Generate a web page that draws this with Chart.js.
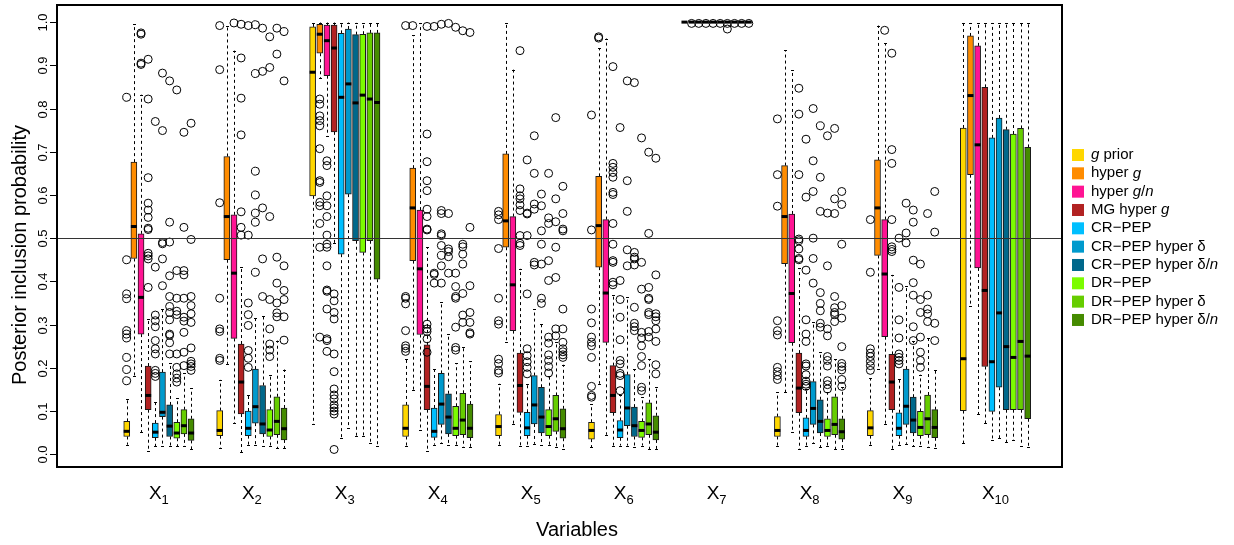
<!DOCTYPE html>
<html>
<head>
<meta charset="utf-8">
<script src="https://cdn.jsdelivr.net/npm/chart.js@4.4.0/dist/chart.umd.min.js"></script>
<style>
  body { margin: 0; background: #fff; }
</style>
</head>
<body>
<canvas id="boxChart" width="1234" height="545"></canvas>
<script>
// variables X1..X10 (subscript numbers)
var variables = ["1", "2", "3", "4", "5", "6", "7", "8", "9", "10"];

// priors, {..} marks italic parts
var priorLabels = ["{g} prior", "hyper {g}", "hyper {g}/{n}", "MG hyper {g}", "CR\u2212PEP",
  "CR\u2212PEP hyper \u03b4", "CR\u2212PEP hyper \u03b4/{n}", "DR\u2212PEP", "DR\u2212PEP hyper \u03b4", "DR\u2212PEP hyper \u03b4/{n}"];
var priorColors = ["#FFD700", "#FF8C00", "#FF1493", "#B22222", "#00BFFF",
  "#009ACD", "#00688B", "#7CFC00", "#66CD00", "#458B00"];

var yTicks = [0, 0.1, 0.2, 0.3, 0.4, 0.5, 0.6, 0.7, 0.8, 0.9, 1.0];

// one row per variable, one column per prior
var whiskerLow = [
  [0.022, 0.182, 0.051, 0.007, 0.019, 0.019, 0.019, 0.019, 0.019, 0.011],
  [0.014, 0.209, 0.072, 0.005, 0.022, 0.022, 0.020, 0.019, 0.014, 0.014],
  [0.070, 0.870, 0.737, 0.488, 0.037, 0.060, 0.043, 0.043, 0.026, 0.019],
  [0.018, 0.149, 0.057, 0.008, 0.022, 0.026, 0.022, 0.022, 0.016, 0.016],
  [0.022, 0.259, 0.069, 0.020, 0.020, 0.024, 0.022, 0.022, 0.016, 0.012],
  [0.016, 0.163, 0.045, 0.020, 0.020, 0.020, 0.016, 0.020, 0.012, 0.012],
  [1.0, 1.0, 1.0, 1.0, 1.0, 1.0, 1.0, 1.0, 1.0, 1.0],
  [0.019, 0.143, 0.051, 0.012, 0.020, 0.025, 0.016, 0.020, 0.011, 0.011],
  [0.022, 0.197, 0.069, 0.011, 0.022, 0.024, 0.019, 0.020, 0.016, 0.015],
  [0.025, 0.344, 0.093, 0.072, 0.033, 0.037, 0.028, 0.032, 0.020, 0.016]
];
var boxLow = [
  [0.041, 0.453, 0.278, 0.103, 0.038, 0.087, 0.041, 0.037, 0.047, 0.032],
  [0.043, 0.450, 0.268, 0.093, 0.043, 0.072, 0.047, 0.041, 0.045, 0.033],
  [0.598, 0.928, 0.876, 0.746, 0.463, 0.602, 0.494, 0.467, 0.494, 0.405],
  [0.041, 0.448, 0.277, 0.103, 0.039, 0.069, 0.047, 0.043, 0.045, 0.038],
  [0.043, 0.479, 0.286, 0.097, 0.043, 0.070, 0.049, 0.043, 0.053, 0.037],
  [0.035, 0.433, 0.259, 0.096, 0.038, 0.066, 0.041, 0.039, 0.045, 0.033],
  [1.0, 1.0, 1.0, 1.0, 1.0, 1.0, 1.0, 1.0, 1.0, 1.0],
  [0.041, 0.441, 0.258, 0.096, 0.041, 0.069, 0.049, 0.041, 0.045, 0.035],
  [0.043, 0.460, 0.272, 0.103, 0.043, 0.069, 0.049, 0.043, 0.045, 0.038],
  [0.101, 0.647, 0.431, 0.203, 0.099, 0.155, 0.103, 0.103, 0.103, 0.082]
];
var boxMid = [
  [0.053, 0.527, 0.363, 0.136, 0.051, 0.097, 0.065, 0.049, 0.066, 0.049],
  [0.055, 0.550, 0.419, 0.167, 0.060, 0.110, 0.070, 0.056, 0.076, 0.059],
  [0.884, 0.972, 0.957, 0.940, 0.826, 0.857, 0.813, 0.831, 0.822, 0.814],
  [0.060, 0.570, 0.429, 0.157, 0.053, 0.116, 0.086, 0.060, 0.079, 0.060],
  [0.064, 0.540, 0.392, 0.159, 0.061, 0.114, 0.086, 0.064, 0.082, 0.059],
  [0.055, 0.529, 0.373, 0.136, 0.056, 0.107, 0.066, 0.055, 0.070, 0.051],
  [1.0, 1.0, 1.0, 1.0, 1.0, 1.0, 1.0, 1.0, 1.0, 1.0],
  [0.055, 0.550, 0.372, 0.153, 0.055, 0.106, 0.076, 0.055, 0.069, 0.052],
  [0.061, 0.570, 0.417, 0.167, 0.060, 0.111, 0.079, 0.062, 0.082, 0.062],
  [0.221, 0.830, 0.716, 0.379, 0.214, 0.327, 0.249, 0.224, 0.261, 0.227]
];
var boxHigh = [
  [0.076, 0.676, 0.510, 0.204, 0.072, 0.190, 0.114, 0.074, 0.103, 0.082],
  [0.101, 0.689, 0.554, 0.255, 0.100, 0.197, 0.159, 0.103, 0.133, 0.107],
  [0.989, 0.995, 0.993, 0.993, 0.974, 0.984, 0.971, 0.972, 0.975, 0.975],
  [0.114, 0.662, 0.565, 0.253, 0.107, 0.187, 0.140, 0.111, 0.141, 0.116],
  [0.092, 0.695, 0.550, 0.234, 0.097, 0.182, 0.155, 0.103, 0.136, 0.105],
  [0.074, 0.643, 0.543, 0.205, 0.078, 0.184, 0.109, 0.076, 0.119, 0.089],
  [1.0, 1.0, 1.0, 1.0, 1.0, 1.0, 1.0, 1.0, 1.0, 1.0],
  [0.087, 0.668, 0.556, 0.234, 0.084, 0.168, 0.126, 0.082, 0.133, 0.082],
  [0.101, 0.681, 0.543, 0.231, 0.096, 0.197, 0.132, 0.099, 0.137, 0.103],
  [0.755, 0.968, 0.945, 0.849, 0.732, 0.778, 0.751, 0.741, 0.754, 0.710]
];
var whiskerHigh = [
  [0.128, 0.995, 0.832, 0.313, 0.120, 0.336, 0.210, 0.130, 0.188, 0.153],
  [0.172, 0.992, 0.934, 0.433, 0.137, 0.315, 0.321, 0.184, 0.263, 0.196],
  [0.999, 0.999, 0.999, 0.999, 0.999, 0.999, 0.999, 0.999, 0.999, 0.999],
  [0.220, 0.970, 0.998, 0.479, 0.197, 0.352, 0.278, 0.210, 0.247, 0.215],
  [0.163, 0.998, 0.890, 0.429, 0.163, 0.336, 0.301, 0.180, 0.259, 0.207],
  [0.116, 0.940, 0.962, 0.369, 0.136, 0.363, 0.197, 0.132, 0.220, 0.155],
  [1.0, 1.0, 1.0, 1.0, 1.0, 1.0, 1.0, 1.0, 1.0, 1.0],
  [0.143, 0.935, 0.889, 0.430, 0.151, 0.305, 0.237, 0.143, 0.220, 0.155],
  [0.176, 0.992, 0.951, 0.415, 0.173, 0.389, 0.261, 0.184, 0.268, 0.194],
  [0.998, 0.998, 0.998, 0.998, 0.998, 0.998, 0.998, 0.998, 0.998, 0.998]
];
var outliers = [
  [[0.826, 0.45, 0.371, 0.36, 0.286, 0.278, 0.269, 0.224, 0.196, 0.17],
   [],
   [0.975, 0.972, 0.905, 0.902],
   [0.914, 0.822, 0.64, 0.581, 0.565, 0.548, 0.523, 0.52, 0.465, 0.459, 0.452, 0.386],
   [0.77, 0.433, 0.322, 0.309, 0.295, 0.263, 0.244, 0.232, 0.194, 0.187, 0.18],
   [0.882, 0.749, 0.49, 0.487, 0.452, 0.39],
   [0.864, 0.537, 0.491, 0.413, 0.365, 0.342, 0.328, 0.311, 0.278, 0.275, 0.258, 0.232],
   [0.843, 0.425, 0.361, 0.331, 0.323, 0.232, 0.201, 0.186, 0.176, 0.167],
   [0.745, 0.525, 0.425, 0.415, 0.361, 0.317, 0.308, 0.282, 0.236, 0.205],
   [0.766, 0.497, 0.365, 0.344, 0.325, 0.305, 0.246, 0.215, 0.209, 0.203, 0.194]],
  [[0.992, 0.89, 0.582, 0.361, 0.29, 0.284, 0.222, 0.217],
   [],
   [0.998],
   [0.995, 0.917, 0.824, 0.739, 0.561, 0.525, 0.507],
   [0.992, 0.507, 0.35, 0.323, 0.298, 0.24, 0.222, 0.201],
   [0.994, 0.881, 0.655, 0.6, 0.558, 0.537, 0.421],
   [0.986, 0.886, 0.57, 0.452, 0.365],
   [0.966, 0.895, 0.55, 0.358, 0.29, 0.255, 0.241, 0.226],
   [0.986, 0.926, 0.456, 0.396, 0.35, 0.327, 0.318],
   [0.978, 0.864, 0.436, 0.379, 0.358, 0.318, 0.264]],
  [[],
   [0.822, 0.81, 0.783, 0.772, 0.76, 0.707, 0.633, 0.629, 0.583, 0.575, 0.534, 0.479, 0.271],
   [0.679, 0.668, 0.598, 0.575, 0.55, 0.507, 0.486, 0.479, 0.436, 0.38, 0.377, 0.336, 0.267, 0.263, 0.238],
   [0.371, 0.355, 0.328, 0.313, 0.232, 0.191, 0.151, 0.137, 0.128, 0.114, 0.107, 0.1, 0.093, 0.011],
   [], [], [], [], [], []],
  [[0.992, 0.365, 0.361, 0.348, 0.286, 0.251, 0.245, 0.238],
   [0.992],
   [],
   [0.99, 0.741, 0.677, 0.633, 0.61, 0.567, 0.55, 0.521, 0.519, 0.301, 0.29, 0.284, 0.267, 0.236],
   [0.99, 0.419, 0.416, 0.396],
   [0.995, 0.564, 0.557, 0.51, 0.506, 0.483, 0.46, 0.436, 0.396],
   [0.997, 0.557, 0.475, 0.469, 0.457, 0.419],
   [0.988, 0.419, 0.388, 0.365, 0.361, 0.294, 0.247, 0.241],
   [0.98, 0.486, 0.48, 0.463, 0.44, 0.372, 0.322, 0.305],
   [0.976, 0.525, 0.39, 0.328, 0.305, 0.281, 0.278]],
  [[0.562, 0.554, 0.543, 0.476, 0.361, 0.309, 0.301, 0.22, 0.21, 0.194, 0.188],
   [],
   [],
   [0.934, 0.614, 0.598, 0.591, 0.577, 0.564, 0.506, 0.488, 0.483],
   [0.681, 0.558, 0.556, 0.506, 0.371, 0.244, 0.228, 0.214, 0.201, 0.186],
   [0.737, 0.65, 0.579, 0.567, 0.444, 0.438],
   [0.602, 0.575, 0.517, 0.486, 0.44, 0.361, 0.349],
   [0.65, 0.547, 0.534, 0.448, 0.402, 0.271, 0.257, 0.23, 0.217, 0.203, 0.188],
   [0.779, 0.591, 0.538, 0.479, 0.409, 0.29, 0.274],
   [0.62, 0.557, 0.521, 0.517, 0.336, 0.29, 0.259, 0.244, 0.237, 0.23, 0.224]],
  [[0.785, 0.519, 0.336, 0.304, 0.271, 0.259, 0.251, 0.224, 0.157, 0.136, 0.132],
   [0.966, 0.963],
   [],
   [0.897, 0.673, 0.664, 0.652, 0.641, 0.606, 0.601, 0.534, 0.486, 0.448, 0.444, 0.398, 0.392],
   [0.756, 0.402, 0.358, 0.317, 0.265, 0.217, 0.209, 0.187, 0.182, 0.147],
   [0.864, 0.633, 0.562, 0.473, 0.436],
   [0.86, 0.467, 0.456, 0.452, 0.438, 0.34, 0.303, 0.295, 0.286],
   [0.732, 0.444, 0.382, 0.282, 0.269, 0.251, 0.226, 0.205, 0.155, 0.147],
   [0.699, 0.511, 0.386, 0.361, 0.358, 0.328, 0.323, 0.284, 0.271],
   [0.685, 0.415, 0.325, 0.318, 0.309, 0.29, 0.261, 0.207, 0.186]],
  [[], [0.997], [0.997], [0.997], [0.997], [0.997], [0.997, 0.984], [0.997], [0.997], [0.997]],
  [[0.776, 0.647, 0.574, 0.309, 0.286, 0.276, 0.201, 0.191, 0.182, 0.173],
   [],
   [],
   [0.847, 0.787, 0.647, 0.498, 0.494, 0.475, 0.453, 0.45],
   [0.729, 0.595, 0.426, 0.311, 0.278, 0.261, 0.209, 0.204, 0.184, 0.169, 0.162, 0.157],
   [0.8, 0.679, 0.608, 0.5, 0.453, 0.396],
   [0.76, 0.641, 0.562, 0.374, 0.349, 0.332, 0.303, 0.294],
   [0.737, 0.558, 0.436, 0.29, 0.274, 0.226, 0.217, 0.204, 0.17, 0.161, 0.151],
   [0.754, 0.591, 0.557, 0.365, 0.339, 0.328, 0.323, 0.307],
   [0.608, 0.578, 0.486, 0.344, 0.315, 0.249, 0.21, 0.203, 0.195, 0.173, 0.157]],
  [[0.543, 0.421, 0.244, 0.234, 0.226, 0.215, 0.205, 0.194],
   [],
   [0.981],
   [0.928, 0.705, 0.673, 0.543, 0.48, 0.474, 0.469],
   [0.5, 0.386, 0.311, 0.269, 0.232, 0.224, 0.217, 0.209],
   [0.581, 0.512, 0.489],
   [0.565, 0.537, 0.449, 0.397, 0.368, 0.295, 0.263],
   [0.44, 0.358, 0.328, 0.271, 0.236, 0.217, 0.201],
   [0.557, 0.368, 0.336, 0.325, 0.307],
   [0.608, 0.514, 0.303, 0.263]],
  [[], [], [], [], [], [], [], [], [], []]
];

var FONT = '"Liberation Sans", Arial, Helvetica, sans-serif';

// box slot: 10 boxes per variable, 3 empty slots between variables
function pos(g, s) { return 1 + 13 * g + s; }

var datasets = [];
priorLabels.forEach(function (label, s) {
  datasets.push({
    type: "bar",
    label: label,
    data: variables.map(function (v, g) {
      return { x: pos(g, s), y: [boxLow[g][s], boxHigh[g][s]] };
    }),
    backgroundColor: priorColors[s],
    borderColor: "#1a1a1a",
    borderWidth: 1,
    borderSkipped: false,
    barThickness: 6,
    grouped: false,
    order: 1
  });
});
priorLabels.forEach(function (label, s) {
  var pts = [];
  variables.forEach(function (v, g) {
    outliers[g][s].forEach(function (val) { pts.push({ x: pos(g, s), y: val }); });
  });
  datasets.push({
    type: "scatter",
    label: label + " outliers",
    data: pts,
    pointRadius: 4,
    pointHoverRadius: 4,
    pointBorderWidth: 1,
    pointBorderColor: "#000",
    pointBackgroundColor: "rgba(0,0,0,0)",
    order: 0
  });
});

// italic parts written as {..}
function drawRich(ctx, text, x, y, size) {
  text.split(/(\{[^}]*\})/).forEach(function (part) {
    if (!part) return;
    var it = part.charAt(0) === "{";
    var t = it ? part.slice(1, -1) : part;
    ctx.font = (it ? "italic " : "") + size + "px " + FONT;
    ctx.fillText(t, x, y);
    x += ctx.measureText(t).width;
  });
}

var boxParts = {
  id: "boxParts",
  beforeDatasetsDraw: function (chart) {
    var ctx = chart.ctx, ys = chart.scales.y;
    ctx.save();
    ctx.strokeStyle = "#000";
    ctx.lineWidth = 1;
    priorLabels.forEach(function (l, s) {
      chart.getDatasetMeta(s).data.forEach(function (bar, g) {
        var x = Math.round(bar.x) + 0.5, half = bar.width / 4;
        var yLo = ys.getPixelForValue(whiskerLow[g][s]), yQ1 = ys.getPixelForValue(boxLow[g][s]);
        var yQ3 = ys.getPixelForValue(boxHigh[g][s]), yHi = ys.getPixelForValue(whiskerHigh[g][s]);
        ctx.setLineDash([3, 3]);
        ctx.beginPath();
        ctx.moveTo(x, yQ1); ctx.lineTo(x, yLo);
        ctx.moveTo(x, yQ3); ctx.lineTo(x, yHi);
        ctx.stroke();
        ctx.setLineDash([]);
        ctx.beginPath();
        ctx.moveTo(x - half, Math.round(yLo) + 0.5); ctx.lineTo(x + half, Math.round(yLo) + 0.5);
        ctx.moveTo(x - half, Math.round(yHi) + 0.5); ctx.lineTo(x + half, Math.round(yHi) + 0.5);
        ctx.stroke();
      });
    });
    ctx.restore();
  },
  afterDatasetsDraw: function (chart) {
    var ctx = chart.ctx, ys = chart.scales.y, a = chart.chartArea;
    ctx.save();
    ctx.strokeStyle = "#000";
    ctx.lineWidth = 3;
    priorLabels.forEach(function (l, s) {
      chart.getDatasetMeta(s).data.forEach(function (bar, g) {
        var y = ys.getPixelForValue(boxMid[g][s]);
        ctx.beginPath();
        ctx.moveTo(bar.x - bar.width / 2, y);
        ctx.lineTo(bar.x + bar.width / 2, y);
        ctx.stroke();
      });
    });
    // reference line at 0.5
    var yh = Math.round(ys.getPixelForValue(0.5)) + 0.5;
    ctx.strokeStyle = "#333";
    ctx.lineWidth = 1;
    ctx.beginPath();
    ctx.moveTo(a.left, yh);
    ctx.lineTo(a.right, yh);
    ctx.stroke();
    ctx.restore();
  },
  afterDraw: function (chart) {
    var ctx = chart.ctx, a = chart.chartArea, xs = chart.scales.x, ys = chart.scales.y;
    ctx.save();
    ctx.strokeStyle = "#000";
    ctx.fillStyle = "#000";
    ctx.lineWidth = 2;
    ctx.strokeRect(a.left, a.top, a.right - a.left, a.bottom - a.top);

    // y axis ticks, labels turned like R
    ctx.lineWidth = 1;
    ctx.font = "13px " + FONT;
    yTicks.forEach(function (t) {
      var py = Math.round(ys.getPixelForValue(t)) + 0.5;
      ctx.beginPath();
      ctx.moveTo(a.left - 7, py);
      ctx.lineTo(a.left, py);
      ctx.stroke();
      ctx.save();
      ctx.translate(a.left - 7, py);
      ctx.rotate(-Math.PI / 2);
      ctx.textAlign = "center";
      ctx.textBaseline = "bottom";
      ctx.fillText(t.toFixed(1), 0, 0);
      ctx.restore();
    });

    // x labels X with subscript
    variables.forEach(function (v, g) {
      var cx = xs.getPixelForValue(pos(g, 4.5));
      ctx.font = "19px " + FONT;
      var wX = ctx.measureText("X").width;
      ctx.font = "13px " + FONT;
      var wS = ctx.measureText(v).width;
      var x0 = cx - (wX + wS) / 2;
      ctx.textAlign = "left";
      ctx.textBaseline = "alphabetic";
      ctx.font = "19px " + FONT;
      ctx.fillText("X", x0, 499);
      ctx.font = "13px " + FONT;
      ctx.fillText(v, x0 + wX, 504);
    });

    // axis titles
    ctx.font = "20px " + FONT;
    ctx.textAlign = "center";
    ctx.textBaseline = "middle";
    ctx.fillText("Variables", 577, 530);
    ctx.save();
    ctx.translate(20, 255);
    ctx.rotate(-Math.PI / 2);
    ctx.fillText("Posterior inclusion probability", 0, 0);
    ctx.restore();

    // legend
    ctx.textAlign = "left";
    ctx.textBaseline = "middle";
    priorLabels.forEach(function (label, s) {
      var cy = 155 + s * 18.33;
      ctx.fillStyle = priorColors[s];
      ctx.fillRect(a.right + 10, cy - 6, 12, 12);
      ctx.fillStyle = "#000";
      drawRich(ctx, label, a.right + 29, cy, 15);
    });
    ctx.restore();
  }
};

var chart = new Chart(document.getElementById("boxChart").getContext("2d"), {
  type: "bar",
  data: { datasets: datasets },
  options: {
    responsive: false,
    animation: false,
    events: [],
    layout: { padding: { left: 57, right: 172, top: 4, bottom: 78 } },
    scales: {
      x: { type: "linear", display: false, offset: false, min: -8.75, max: 131.8 },
      y: { type: "linear", display: false, min: -0.0296, max: 1.0396 }
    },
    plugins: { legend: { display: false }, tooltip: { enabled: false } }
  },
  plugins: [boxParts]
});
</script>
</body>
</html>
